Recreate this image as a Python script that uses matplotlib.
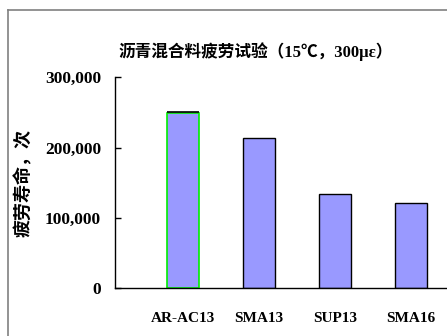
import matplotlib
matplotlib.use("Agg")
import matplotlib.pyplot as plt
from matplotlib.lines import Line2D
from matplotlib.ticker import FuncFormatter

# 疲劳寿命数据
mixes = ["AR-AC13", "SMA13", "SUP13", "SMA16"]
fatigue_life = [249000, 214000, 134000, 121000]
y_ticks = [0, 100000, 200000, 300000]

title = "沥青混合料疲劳试验（15℃，300με）"
ylabel = "疲劳寿命，次"

fonts = ["Liberation Serif", "Noto Sans CJK SC"]
plt.rcParams["font.family"] = fonts

fig = plt.figure(figsize=(4.47, 3.36), dpi=100)
ax = fig.add_axes([0.2573, 0.1414, 0.7427, 0.6294])

x = list(range(len(mixes)))
bars = ax.bar(x, fatigue_life, width=0.42, color="#9999ff",
              edgecolor="black", linewidth=1.0)
# 第一根柱子用绿色边框突出
bars[0].set_edgecolor("#00ee00")
bars[0].set_linewidth(1.2)
ax.hlines(fatigue_life[0] + 1500, -0.21, 0.21, color="black", linewidth=1.2)

ax.set_xlim(-0.895, 3.47)
ax.set_ylim(0, 300000)
ax.set_xticks(x)
ax.set_xticklabels(mixes, fontsize=11, fontweight="bold")
ax.set_yticks(y_ticks)
ax.yaxis.set_major_formatter(FuncFormatter(lambda v, p: f"{int(v):,}"))
for lbl in ax.get_yticklabels():
    lbl.set_fontsize(12.5)
    lbl.set_fontweight("bold")
ax.tick_params(axis="x", length=0, pad=17)
ax.tick_params(axis="y", direction="in", length=4, width=1, pad=10)

for s in ["top", "right"]:
    ax.spines[s].set_visible(False)
for s in ["left", "bottom"]:
    ax.spines[s].set_linewidth(1.0)

fig.text(0.571, 0.845, title, ha="center", va="center",
         fontsize=12, fontweight="bold", family=fonts)
fig.text(0.054, 0.455, ylabel, ha="center", va="center", rotation=90,
         fontsize=13, fontweight="bold", family=fonts)

# 外框
fig.add_artist(Line2D([0.018, 0.018], [0.0, 0.970], color="#808080",
                      linewidth=1.2, transform=fig.transFigure))
fig.add_artist(Line2D([0.018, 1.0], [0.970, 0.970], color="#808080",
                      linewidth=1.2, transform=fig.transFigure))

fig.savefig("out.png", dpi=100)
